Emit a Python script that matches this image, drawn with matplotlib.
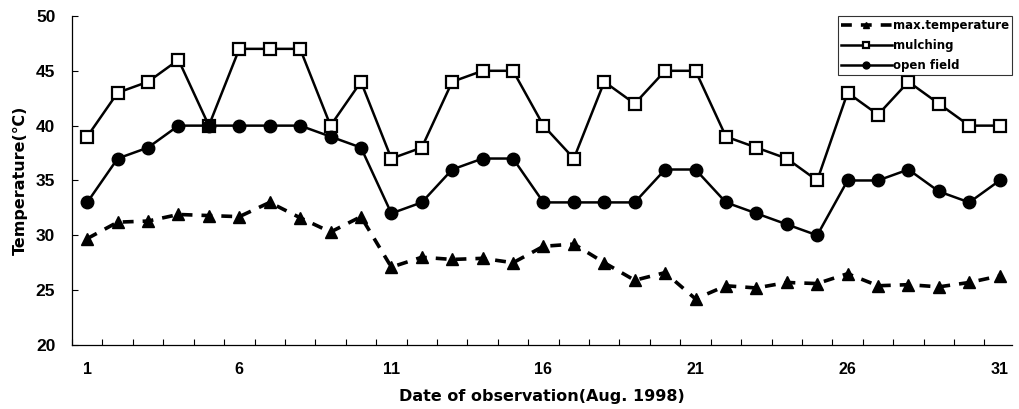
import matplotlib
matplotlib.use("Agg")
import matplotlib.pyplot as plt
from matplotlib.ticker import FixedLocator

days = list(range(1, 32))
mulching = [39, 43, 44, 46, 40, 47, 47, 47, 40, 44, 37, 38, 44, 45, 45, 40,
            37, 44, 42, 45, 45, 39, 38, 37, 35, 43, 41, 44, 42, 40, 40]
open_field = [33, 37, 38, 40, 40, 40, 40, 40, 39, 38, 32, 33, 36, 37, 37, 33,
              33, 33, 33, 36, 36, 33, 32, 31, 30, 35, 35, 36, 34, 33, 35]
max_temp = [29.7, 31.2, 31.3, 31.9, 31.8, 31.7, 33.0, 31.6, 30.3, 31.7, 27.1,
            28.0, 27.8, 27.9, 27.5, 29.0, 29.2, 27.5, 25.9, 26.6, 24.2, 25.4,
            25.2, 25.7, 25.6, 26.5, 25.4, 25.5, 25.3, 25.7, 26.3]
x_labels = [1, 6, 11, 16, 21, 26, 31]
y_ticks = [20, 25, 30, 35, 40, 45, 50]

plt.rcParams['font.family'] = ['Liberation Sans', 'DejaVu Sans']
plt.rcParams['font.weight'] = 'bold'
wide = ['DejaVu Sans']

fig = plt.figure(figsize=(10.2, 4.09), dpi=100)
ax = fig.add_axes([0.0706, 0.1565, 0.9214, 0.8045])

ax.plot(days, max_temp, color='black', linestyle=(0, (3, 2.5)), linewidth=2.6,
        marker='^', markersize=9, markerfacecolor='black', markeredgecolor='black',
        label='max.temperature')
ax.plot(days, mulching, color='black', linestyle='-', linewidth=1.8,
        marker='s', markersize=8.5, markerfacecolor='white', markeredgecolor='black',
        markeredgewidth=1.6, label='mulching')
ax.plot(days, open_field, color='black', linestyle='-', linewidth=1.8,
        marker='o', markersize=9, markerfacecolor='black', markeredgecolor='black',
        label='open field')

ax.set_xlim(0.5, 31.4)
ax.set_ylim(20, 50)
ax.set_xticks(x_labels)
ax.set_xticklabels([str(v) for v in x_labels], fontsize=11.5, fontweight='bold')
ax.xaxis.set_minor_locator(FixedLocator([d + 0.5 for d in range(0, 31)]))
ax.tick_params(axis='x', which='major', length=0, pad=12)
ax.tick_params(axis='x', which='minor', direction='in', length=4, width=0.8)
ax.set_yticks(y_ticks)
ax.set_yticklabels([str(v) for v in y_ticks], fontsize=12.5, fontweight='bold')
ax.tick_params(axis='y', direction='in', length=4, width=0.8, pad=12)

for s in ['top', 'right']:
    ax.spines[s].set_visible(False)
for s in ['left', 'bottom']:
    ax.spines[s].set_linewidth(0.9)

ax.set_xlabel('Date of observation(Aug. 1998)', fontsize=11.5, fontweight='bold',
              family=wide, labelpad=9)
ax.set_ylabel('Temperature(℃)', fontsize=11.5, fontweight='bold',
              family=wide, labelpad=6)

leg = ax.legend(loc='upper right', bbox_to_anchor=(1.0, 1.0),
                prop={'family': wide, 'weight': 'bold', 'size': 8.5},
                frameon=True, fancybox=False, edgecolor='black', handlelength=4.3,
                handletextpad=0.1, borderpad=0.25, labelspacing=0.6,
                borderaxespad=0.0, markerscale=0.55)
leg.get_frame().set_linewidth(0.8)

fig.savefig('out.png', dpi=100)
